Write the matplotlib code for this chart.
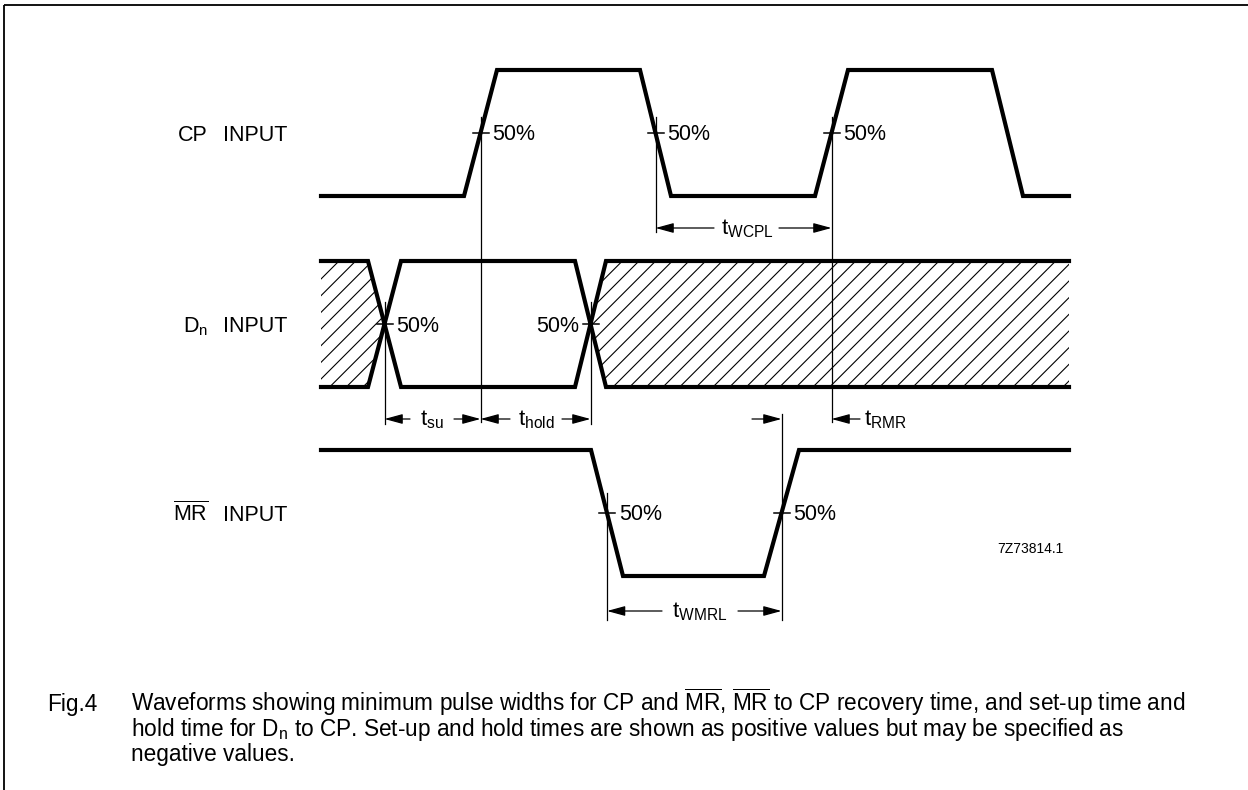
import matplotlib
matplotlib.use('Agg')
import matplotlib.pyplot as plt

plt.rcParams['font.family'] = ['Liberation Sans', 'DejaVu Sans']
plt.rcParams['mathtext.fontset'] = 'custom'
plt.rcParams['mathtext.rm'] = 'Liberation Sans'
plt.rcParams['mathtext.it'] = 'Liberation Sans:italic'
plt.rcParams['mathtext.bf'] = 'Liberation Sans:bold'
plt.rcParams['hatch.linewidth'] = 0.8

# ---------------- data (edge times, logic levels) ----------------
CP_T = [321, 464, 497, 640, 671, 815, 848, 992, 1023, 1069]
CP_LEVEL = [0, 0, 1, 1, 0, 0, 1, 1, 0, 0]
DN_T = [321, 368, 401, 575, 606, 1069]
DN_A = [1, 1, 0, 0, 1, 1]
DN_B = [0, 0, 1, 1, 0, 0]
MR_T = [321, 591, 623, 764, 799, 1069]
MR_LEVEL = [1, 1, 0, 0, 1, 1]

SIGNAL_PREFIX = ['CP', r'D$_\mathrm{n}$', r'$\overline{\mathrm{MR}}$']
SIGNAL_SUFFIX = 'INPUT'
DIM_LABELS = [r't$_\mathrm{su}$', r't$_\mathrm{hold}$', r't$_\mathrm{WCPL}$',
              r't$_\mathrm{RMR}$', r't$_\mathrm{WMRL}$']
PCT = '50%'
CODE = '7Z73814.1'
CAPTION_TAG = 'Fig.4'
CAPTION_LINES = [
    r'Waveforms showing minimum pulse widths for CP and $\overline{\mathrm{MR}}$, '
    r'$\overline{\mathrm{MR}}$ to CP recovery time, and set-up time and',
    r'hold time for D$_\mathrm{n}$ to CP. Set-up and hold times are shown as positive values but may be specified as',
    'negative values.',
]

# ---------------- layout ----------------
W, H = 1248, 790
ROW_BASE = [196, 387, 576]
AMP = 126
THICK = 3.0
THIN = 0.9
DIM_FS = 16

fig = plt.figure(figsize=(W / 100, H / 100), dpi=100)
ax = fig.add_axes([0, 0, 1, 1])
ax.set_xlim(0, W)
ax.set_ylim(H, 0)
ax.axis('off')

# frame
ax.plot([4, W], [5, 5], color='k', lw=1.3, solid_capstyle='butt')
ax.plot([4, 4], [5, H], color='k', lw=1.3, solid_capstyle='butt')


def ys(levels, base):
    return [base - l * AMP for l in levels]


def crossings(t, lv):
    out = []
    for i in range(len(t) - 1):
        if lv[i] != lv[i + 1]:
            out.append((t[i] + t[i + 1]) / 2)
    return out


# waveforms
ax.plot(CP_T, ys(CP_LEVEL, ROW_BASE[0]), color='k', lw=THICK, solid_joinstyle='miter')
ax.plot(DN_T, ys(DN_A, ROW_BASE[1]), color='k', lw=THICK, solid_joinstyle='miter')
ax.plot(DN_T, ys(DN_B, ROW_BASE[1]), color='k', lw=THICK, solid_joinstyle='miter')
ax.plot(MR_T, ys(MR_LEVEL, ROW_BASE[2]), color='k', lw=THICK, solid_joinstyle='miter')

# hatched (don't care) regions of Dn
dn_x = crossings(DN_T, DN_A)
top_y = ROW_BASE[1] - AMP
bot_y = ROW_BASE[1]
mid_y = ROW_BASE[1] - AMP / 2
ax.fill([DN_T[0], DN_T[1], dn_x[0], DN_T[1], DN_T[0]],
        [top_y, top_y, mid_y, bot_y, bot_y],
        facecolor='none', edgecolor='k', lw=0, hatch='//')
ax.fill([DN_T[4], DN_T[5], DN_T[5], DN_T[4], dn_x[1]],
        [top_y, top_y, bot_y, bot_y, mid_y],
        facecolor='none', edgecolor='k', lw=0, hatch='//')

cp_x = crossings(CP_T, CP_LEVEL)
mr_x = crossings(MR_T, MR_LEVEL)
cp_mid = ROW_BASE[0] - AMP / 2
mr_mid = ROW_BASE[2] - AMP / 2

# reference lines: (x, ytop, ybot)
refs = [
    (cp_x[0], cp_mid - 16, 422),
    (cp_x[1], cp_mid - 16, 232),
    (cp_x[2], cp_mid - 16, 422),
    (dn_x[0], mid_y - 22, 424),
    (dn_x[1], mid_y - 22, 424),
    (mr_x[0], mr_mid - 20, 620),
    (mr_x[1], 414, 620),
]
for x, y0, y1 in refs:
    ax.plot([x, x], [y0, y1], color='k', lw=THIN)

# 50% ticks and labels: (x, y, side)
marks = [
    (cp_x[0], cp_mid, 'r'), (cp_x[1], cp_mid, 'r'), (cp_x[2], cp_mid, 'r'),
    (dn_x[0], mid_y, 'r'), (dn_x[1], mid_y, 'l'),
    (mr_x[0], mr_mid, 'r'), (mr_x[1], mr_mid, 'r'),
]
for x, y, side in marks:
    ax.plot([x - 8, x + 8], [y, y], color='k', lw=1.1)
    if side == 'r':
        ax.text(x + 12, y + 7.5, PCT, ha='left', va='baseline', fontsize=15.5)
    else:
        ax.text(x - 11, y + 7.5, PCT, ha='right', va='baseline', fontsize=15.5)

# signal labels
for base, pre in zip(ROW_BASE, SIGNAL_PREFIX):
    yb = base - AMP / 2 + 8
    ax.text(208, yb, pre, ha='right', va='baseline', fontsize=15.5)
    ax.text(223, yb, SIGNAL_SUFFIX, ha='left', va='baseline', fontsize=15.5)


def arrow(tip, tail, y):
    ax.annotate('', xy=(tip, y), xytext=(tail, y),
                arrowprops=dict(arrowstyle='-|>,head_length=1.1,head_width=0.3',
                                mutation_scale=10, color='k', lw=THIN,
                                shrinkA=0, shrinkB=0))


# dimension annotations
y_a = 419
arrow(dn_x[0], 410, y_a); arrow(cp_x[0], 454, y_a)
ax.text(432, y_a + 6, DIM_LABELS[0], ha='center', va='baseline', fontsize=DIM_FS)
arrow(cp_x[0], 510, y_a); arrow(dn_x[1], 562, y_a)
ax.text(536, y_a + 6, DIM_LABELS[1], ha='center', va='baseline', fontsize=DIM_FS)

y_w = 228
arrow(cp_x[1], 714, y_w); arrow(cp_x[2], 779, y_w)
ax.text(747, y_w + 6, DIM_LABELS[2], ha='center', va='baseline', fontsize=DIM_FS)

arrow(mr_x[1], 752, y_a); arrow(cp_x[2], 860, y_a)
ax.text(864, y_a + 6, DIM_LABELS[3], ha='left', va='baseline', fontsize=DIM_FS)

y_m = 611
arrow(mr_x[0], 662, y_m); arrow(mr_x[1], 738, y_m)
ax.text(700, y_m + 6, DIM_LABELS[4], ha='center', va='baseline', fontsize=DIM_FS)

ax.text(1030, 553, CODE, ha='center', va='baseline', fontsize=10)

# caption
cap_fs = 16.3
ax.text(47, 711, CAPTION_TAG, ha='left', va='baseline', fontsize=cap_fs)
for i, line in enumerate(CAPTION_LINES):
    ax.text(131, 711 + 25 * i, line, ha='left', va='baseline', fontsize=cap_fs)

fig.savefig('out.png', dpi=100)
